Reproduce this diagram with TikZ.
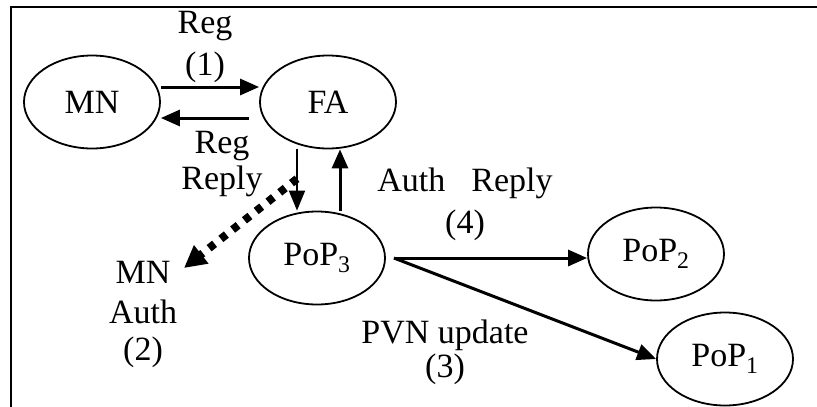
\documentclass[tikz,border=0pt]{standalone}
\usepackage{fontspec}
\setmainfont{Liberation Serif}
\usetikzlibrary{arrows.meta,shapes.geometric,calc}
\begin{document}
\begin{tikzpicture}[x=1pt,y=-1pt,
  stn/.style={ellipse, draw, line width=1.8pt, minimum width=136pt, minimum height=93pt, inner sep=0pt, font=\fontsize{34}{40}\selectfont},
  lbl/.style={align=center, inner sep=0pt, font=\fontsize{34}{40}\selectfont},
  arr/.style={line width=3pt, -{Triangle[length=19pt,width=16pt]}},
  arrthin/.style={line width=2pt, -{Triangle[length=20pt,width=16pt]}},
  dotarr/.style={line width=8pt, dash pattern=on 7pt off 8pt, -{Triangle[length=22pt,width=22pt]}},
  frame/.style={line width=2.5pt}]
\useasboundingbox (0,0) rectangle (817,407);
% frame
\coordinate (fBL) at (11,408);
\coordinate (fTL) at (11,7);
\coordinate (fTR) at (818,7);
\draw[frame] (fBL) -- (fTL) -- (fTR);
% stations
\node[stn] (MN) at (92,102) {MN};
\node[stn] (FA) at (328,102) {FA};
\node[stn] (P3) at (317,258) {PoP\textsubscript{3}};
\node[stn] (P2) at (656,254) {PoP\textsubscript{2}};
\node[stn] (P1) at (725,359) {PoP\textsubscript{1}};
% labels
\node[lbl] (l1) at (205,47) {Reg\\[2pt](1)};
\node[lbl] (lrr) at (222,164) {Reg\\[-4pt]Reply};
\node[lbl] (l4) at (465,204) {Auth\hspace{26pt}Reply\\[2pt](4)};
\node[lbl] (l3) at (445,352) {PVN update\\[-6pt](3)};
\node[lbl] (l2) at (143,314) {MN\\Auth\\[-3pt](2)};
% connectors
\draw[arr] ([yshift=15pt]MN.east) -- ([yshift=15pt]FA.west);
\draw[arr] ([xshift=-10pt,yshift=-16pt]FA.west) -- ([yshift=-16pt]MN.east);
\draw[arrthin] ([xshift=-31pt]FA.south) -- ([xshift=-20pt]P3.north);
\path ([xshift=-31pt]FA.south) -- ([xshift=-20pt]P3.north) coordinate[pos=0.48] (br);
\draw[arr] ([xshift=23pt]P3.north) -- ([xshift=12pt]FA.south);
\coordinate (mnauth) at (184,268);
\draw[dotarr] (br) -- (mnauth);
\coordinate (s) at ([xshift=8pt]P3.east);
\draw[arr] (s) -- (s -| P2.west);
\draw[arr] (s) -- (P1.west);
\end{tikzpicture}
\end{document}
